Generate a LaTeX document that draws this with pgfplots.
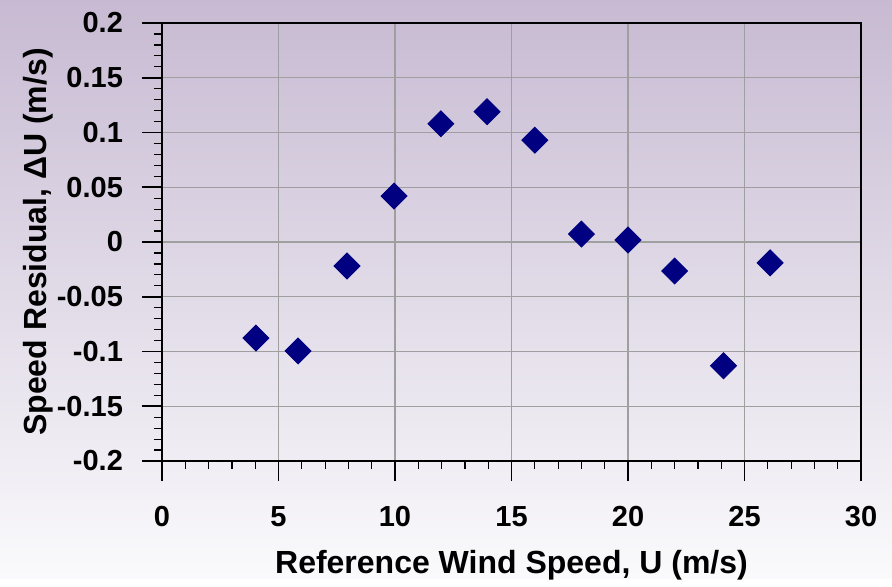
\documentclass[border=0pt]{standalone}
\usepackage{fontspec}
\setmainfont{Liberation Sans}
\usepackage{pgfplots}
\pgfplotsset{compat=1.18}
\definecolor{bgtop}{RGB}{199,186,210}
\definecolor{bgbot}{RGB}{250,250,252}
\definecolor{navy}{RGB}{0,0,128}
\begin{document}
\begin{tikzpicture}
\shade[top color=bgtop, bottom color=bgbot] (-81pt,-58.5pt) rectangle (365pt,230.5pt);
\begin{axis}[
  at={(0,0)}, anchor=south west,
  scale only axis, width=349.5pt, height=219pt,
  xmin=0, xmax=30, ymin=-0.2, ymax=0.2,
  xtick={0,5,...,30}, ytick={-0.2,-0.15,...,0.2},
  minor x tick num=4, minor y tick num=4,
  xtick pos=bottom, ytick pos=left,
  major tick length=10pt, minor tick length=4pt,
  tick align=outside,
  major tick style={black, line width=0.8pt, /pgfplots/tick align=center},
  minor tick style={black, line width=0.6pt},
  xmajorgrids, ymajorgrids,
  major grid style={draw=gray!75, line width=0.6pt},
  axis line style={black, line width=0.9pt},
  font=\fontsize{14.5}{16}\selectfont\bfseries,
  /pgf/number format/assume math mode=true,
  yticklabel={\pgfmathparse{\tick}\pgfmathprintnumber[fixed,precision=2]{\pgfmathresult}},
  xticklabel style={yshift=-9pt},
  yticklabel style={xshift=-6pt},
  xlabel={Reference Wind Speed, U (m/s)},
  ylabel={Speed Residual, ΔU (m/s)},
  label style={font=\fontsize{16}{18}\selectfont\bfseries},
  xlabel style={yshift=-5pt},
  ylabel style={yshift=-5pt},
]
\addplot[only marks, mark=square*, mark size=4.6pt, color=navy,
  every mark/.append style={rotate=45}] coordinates {
(4.03,-0.0877) (5.84,-0.0995) (7.94,-0.0219) (9.96,0.042) (11.97,0.108)
(13.95,0.119) (16.0,0.093) (18.0,0.0073) (20.0,0.0018) (22.0,-0.0265)
(24.1,-0.113) (26.1,-0.019)
};
\end{axis}
\end{tikzpicture}
\end{document}
